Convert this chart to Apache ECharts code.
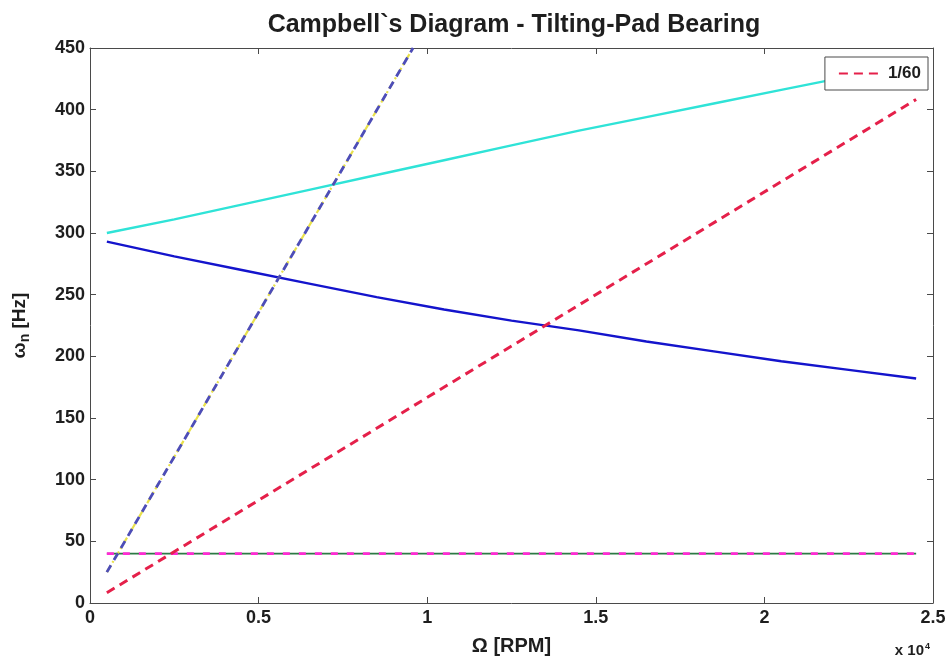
<!DOCTYPE html>
<html>
<head>
<meta charset="utf-8">
<script src="https://cdn.jsdelivr.net/npm/echarts@6/dist/echarts.min.js"></script>
<style>
  html, body { margin: 0; padding: 0; background: #fff; }
  #chart { width: 950px; height: 661px; }
</style>
</head>
<body>
<div id="chart"></div>
<script>
// Rotor speed samples [RPM]
const speedRpm = [500, 2500, 4500, 6500, 8500, 10500, 12500, 14500, 16500, 18500, 20500, 22500, 24500];
// Natural frequencies of the two whirl modes [Hz]
const modeForward = [300, 311, 323, 335, 347, 359, 371, 383, 394, 405, 416, 427, 438];
const modeBackward = [293, 281, 270, 259, 248, 238, 229, 221, 212, 204, 196, 189, 182];
// Low conical mode, practically constant [Hz]
const modeLow = [40, 40, 40, 40, 40, 40, 40, 40, 40, 40, 40, 40, 40];
// Synchronous excitation line (1/60) endpoints
const syncSpeed = [500, 24500];
const syncFreq = [8.3, 408.3];
// Higher-order excitation line endpoints
const steepSpeed = [500, 9580];
const steepFreq = [25, 450];
// Axis ticks
const xTicks = [0, 5000, 10000, 15000, 20000, 25000];
const yTicks = [0, 50, 100, 150, 200, 250, 300, 350, 400, 450];

const pairs = (xs, ys) => xs.map((x, i) => [x, ys[i]]);

const FONT = 'Liberation Sans, Arial, sans-serif';
const AXIS_COLOR = '#4a4a4a';
const TEXT_COLOR = '#1e1e1e';
const labelStyle = { color: TEXT_COLOR, fontFamily: FONT, fontWeight: 'bold', fontSize: 18 };

const chart = echarts.init(document.getElementById('chart'), null, { renderer: 'canvas' });

const frameLine = { show: true, onZero: false, lineStyle: { color: AXIS_COLOR, width: 1 } };
const innerTick = { show: true, inside: true, length: 6, lineStyle: { color: AXIS_COLOR } };

chart.setOption({
  backgroundColor: '#ffffff',
  animation: false,
  title: {
    text: 'Campbell`s Diagram - Tilting-Pad Bearing',
    left: 509,
    textAlign: 'center',
    top: 8,
    textStyle: { fontFamily: FONT, fontWeight: 'bold', fontSize: 25, color: TEXT_COLOR }
  },
  grid: { left: 90, right: 17, top: 48, bottom: 58, containLabel: false },
  legend: {
    data: ['1/60'],
    right: 22,
    top: 57,
    orient: 'vertical',
    backgroundColor: '#fff',
    borderColor: AXIS_COLOR,
    borderWidth: 1,
    padding: [8, 7, 8, 13],
    itemWidth: 44,
    itemHeight: 14,
    itemGap: 4,
    itemStyle: { opacity: 0 },
    textStyle: { fontFamily: FONT, fontWeight: 'bold', fontSize: 17, color: TEXT_COLOR }
  },
  xAxis: [{
    type: 'value',
    min: xTicks[0],
    max: xTicks[xTicks.length - 1],
    interval: xTicks[1] - xTicks[0],
    name: 'Ω [RPM]',
    nameLocation: 'middle',
    nameGap: 33,
    nameTextStyle: { fontFamily: FONT, fontWeight: 'bold', fontSize: 20, color: TEXT_COLOR },
    axisLine: frameLine,
    axisTick: innerTick,
    splitLine: { show: false },
    axisLabel: Object.assign({ margin: 6, formatter: v => String(v / 10000) }, labelStyle)
  }, {
    type: 'value',
    position: 'top',
    min: xTicks[0],
    max: xTicks[xTicks.length - 1],
    interval: xTicks[1] - xTicks[0],
    axisLine: frameLine,
    axisTick: innerTick,
    axisLabel: { show: false },
    splitLine: { show: false }
  }],
  yAxis: [{
    type: 'value',
    min: yTicks[0],
    max: yTicks[yTicks.length - 1],
    interval: yTicks[1] - yTicks[0],
    name: '{w|ω}{s|n}{w| [Hz]}',
    nameLocation: 'middle',
    nameGap: 58,
    nameRotate: 90,
    nameTextStyle: {
      rich: {
        w: { fontFamily: FONT, fontWeight: 'bold', fontSize: 19, color: TEXT_COLOR },
        s: { fontFamily: FONT, fontWeight: 'bold', fontSize: 14, color: TEXT_COLOR, verticalAlign: 'bottom', padding: [10, 0, 0, 0] }
      }
    },
    axisLine: frameLine,
    axisTick: innerTick,
    splitLine: { show: false },
    axisLabel: Object.assign({ margin: 5 }, labelStyle)
  }, {
    type: 'value',
    position: 'right',
    min: yTicks[0],
    max: yTicks[yTicks.length - 1],
    interval: yTicks[1] - yTicks[0],
    axisLine: frameLine,
    axisTick: innerTick,
    axisLabel: { show: false },
    splitLine: { show: false }
  }],
  graphic: [{
    type: 'text',
    right: 20,
    top: 642,
    style: {
      text: '{a|x 10}{b|4}',
      rich: {
        a: { fontFamily: FONT, fontWeight: 'bold', fontSize: 15, fill: TEXT_COLOR },
        b: { fontFamily: FONT, fontWeight: 'bold', fontSize: 9, fill: TEXT_COLOR, verticalAlign: 'top', padding: [0, 0, 9, 1] }
      }
    }
  }],
  series: [
    {
      name: 'mode1f', type: 'line', showSymbol: false, symbol: 'none', silent: true,
      data: pairs(speedRpm, modeForward),
      lineStyle: { color: '#2fe3d7', width: 2.4 }, z: 2
    },
    {
      name: 'mode1b', type: 'line', showSymbol: false, symbol: 'none', silent: true,
      data: pairs(speedRpm, modeBackward),
      lineStyle: { color: '#1414cc', width: 2.4 }, z: 2
    },
    {
      name: 'modeLowA', type: 'line', showSymbol: false, symbol: 'none', silent: true,
      data: pairs(speedRpm, modeLow),
      lineStyle: { color: '#2d7a45', width: 1.6 }, z: 2
    },
    {
      name: 'modeLowB', type: 'line', showSymbol: false, symbol: 'none', silent: true,
      data: pairs(speedRpm, modeLow),
      lineStyle: { color: '#ff2ad4', width: 2.8, type: [7, 9] }, z: 3
    },
    {
      name: 'steepA', type: 'line', showSymbol: false, symbol: 'none', silent: true,
      data: pairs(steepSpeed, steepFreq),
      lineStyle: { color: '#e8e04a', width: 2.2, type: [8, 3, 2, 3] }, z: 3
    },
    {
      name: 'steepB', type: 'line', showSymbol: false, symbol: 'none', silent: true,
      data: pairs(steepSpeed, steepFreq),
      lineStyle: { color: '#4d4db8', width: 2.8, type: [8, 6] }, z: 4
    },
    {
      name: '1/60', type: 'line', showSymbol: false, symbol: 'none', silent: true,
      data: pairs(syncSpeed, syncFreq),
      itemStyle: { color: '#e5204a' },
      lineStyle: { color: '#e5204a', width: 3, type: [9, 6] }, z: 5
    }
  ]
});
</script>
</body>
</html>
